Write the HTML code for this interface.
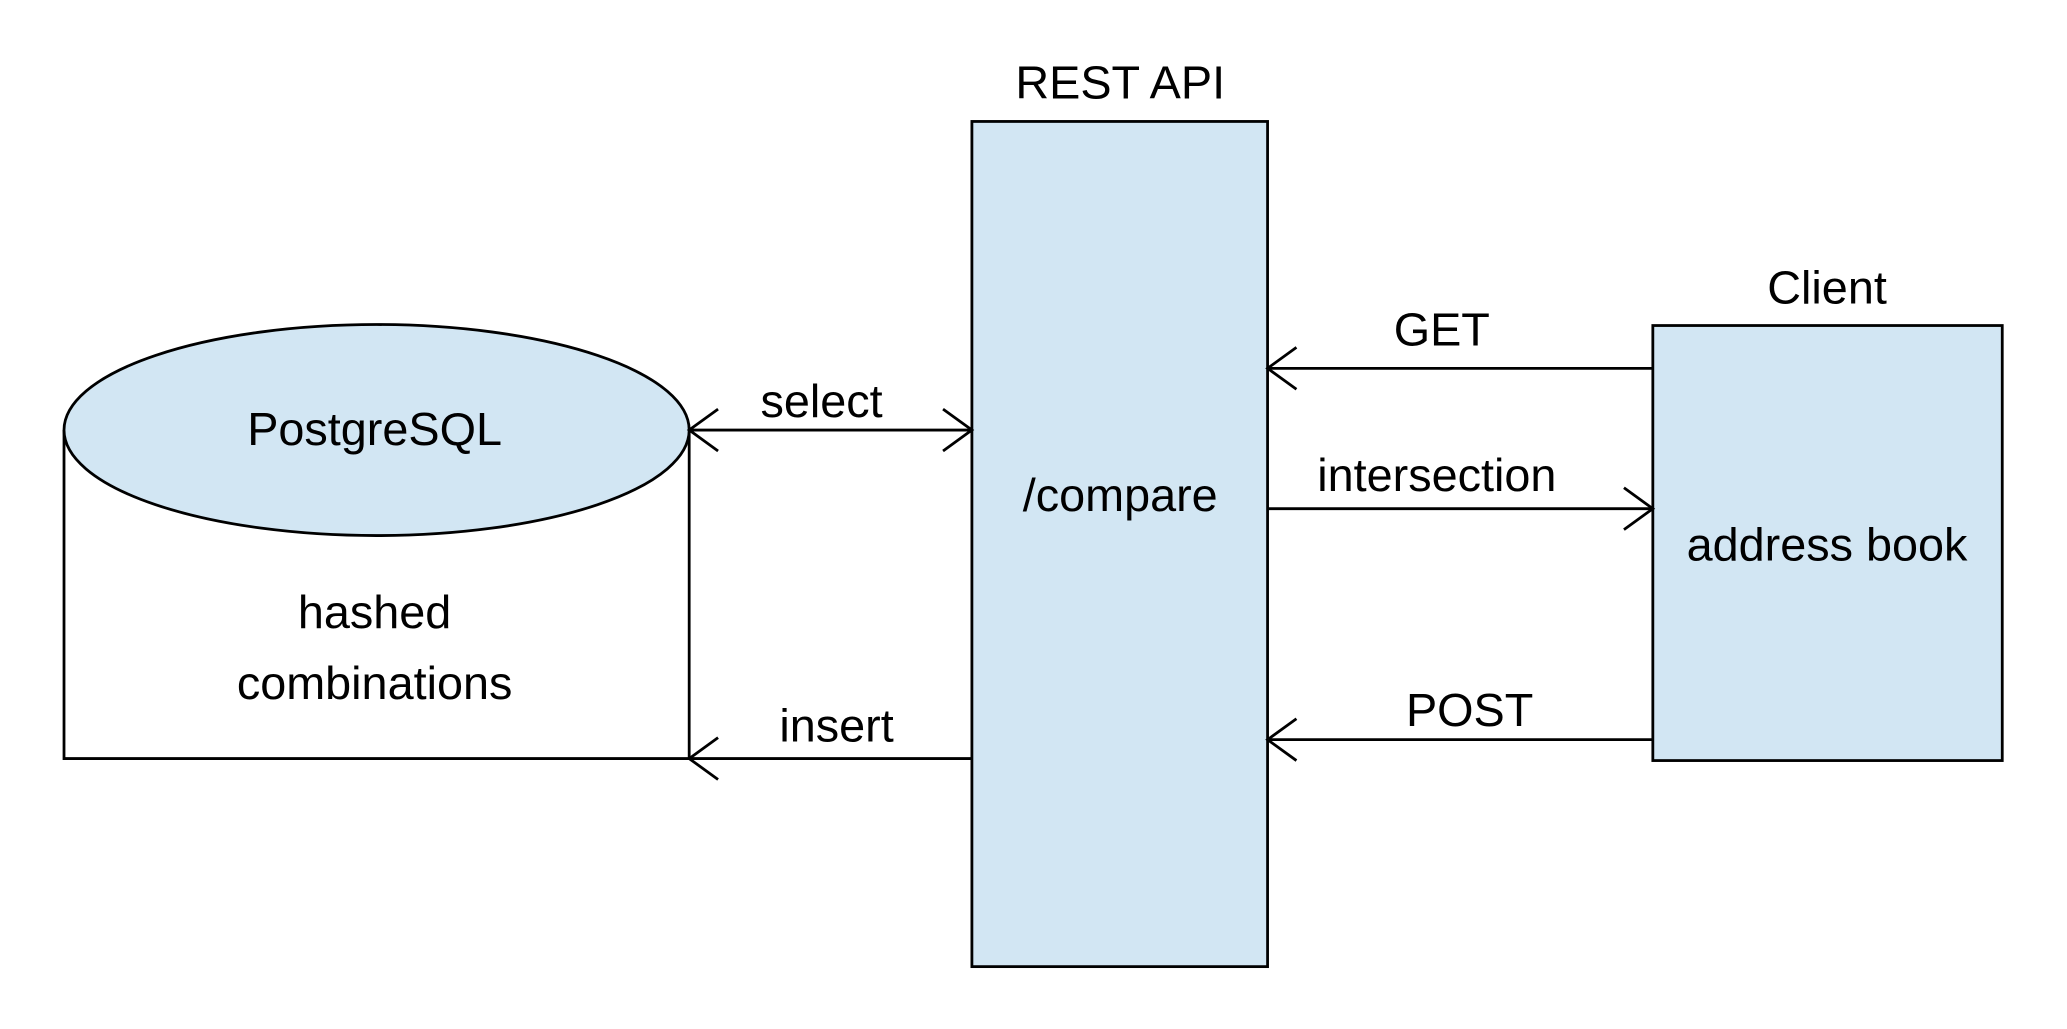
<!DOCTYPE html>
<html><head><style>body{margin:0;background:#fff}svg{display:block}</style></head>
<body>
<svg width="2067" height="1029" viewBox="0 0 2067 1029" xmlns="http://www.w3.org/2000/svg" font-family="Liberation Sans, sans-serif" font-size="47" fill="#000">
<g transform="translate(0.3,0) scale(0.9955)">
<g stroke="#000" stroke-width="2.8" fill="none">
<path d="M64 432 V762 H692 V432" fill="#fff"/>
<ellipse cx="378" cy="432" rx="314" ry="106" fill="#d2e6f3"/>
<rect x="976" y="122" width="297" height="849" fill="#d2e6f3"/>
<rect x="1660" y="327" width="351" height="437" fill="#d2e6f3"/>
<line x1="692" y1="432" x2="976" y2="432"/>
<path d="M721 411 L692 432 L721 453 M947 411 L976 432 L947 453"/>
<line x1="692" y1="762" x2="976" y2="762"/>
<path d="M721 741 L692 762 L721 783"/>
<line x1="1273" y1="370" x2="1660" y2="370"/>
<path d="M1302 349 L1273 370 L1302 391"/>
<line x1="1273" y1="511" x2="1660" y2="511"/>
<path d="M1631 490 L1660 511 L1631 532"/>
<line x1="1273" y1="743" x2="1660" y2="743"/>
<path d="M1302 722 L1273 743 L1302 764"/>
</g>
<g text-anchor="middle" dominant-baseline="central">
<text x="1125" y="83">REST API</text>
<text x="1835" y="289">Client</text>
<text x="1448" y="331">GET</text>
<text x="1443" y="477">intersection</text>
<text x="1476" y="713">POST</text>
<text x="825" y="403">select</text>
<text x="840" y="729">insert</text>
<text x="376" y="431">PostgreSQL</text>
<text x="376" y="615">hashed</text>
<text x="376" y="686">combinations</text>
<text x="1125" y="497">/compare</text>
<text x="1835" y="547">address book</text>
</g>
</g>
</svg>
</body></html>
